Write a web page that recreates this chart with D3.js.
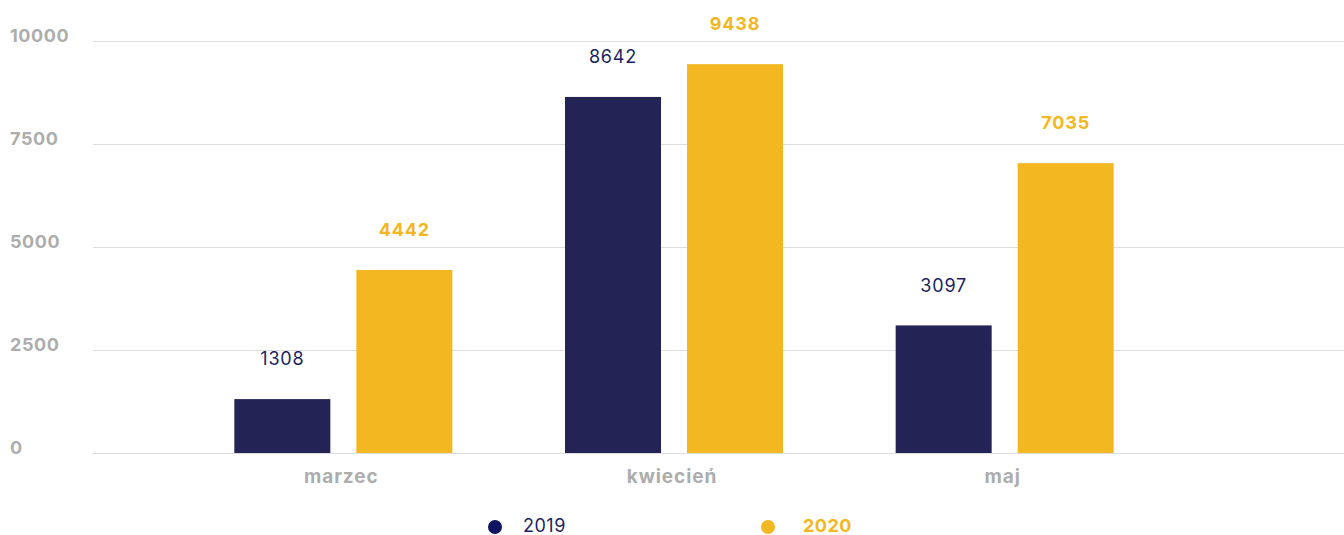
<!DOCTYPE html>
<html>
<head>
<meta charset="utf-8">
<script src="https://cdn.jsdelivr.net/npm/d3@7"></script>
<style>
  html, body { margin: 0; padding: 0; background: #fff; }
  svg { display: block; font-family: "Inter", "Open Sans", sans-serif; }
</style>
</head>
<body>
<svg id="chart" width="1344" height="535"></svg>
<script>
// Monthly totals, 2019 vs 2020
const categories = ["marzec", "kwiecień", "maj"];
const seriesNames = ["2019", "2020"];
const values2019 = [1308, 8642, 3097];
const values2020 = [4442, 9438, 7035];
const yTicks = [0, 2500, 5000, 7500, 10000];

const colors = { "2019": "#232355", "2020": "#f3b722" };
const labelColors = { "2019": "#1b1f63", "2020": "#f3b722" };
const labelWeights = { "2019": 400, "2020": 700 };

const svg = d3.select("#chart");

const y = d3.scaleLinear().domain([0, 10000]).range([453, 41]);
const x0 = d3.scaleBand().domain(categories).range([178, 1170]).paddingInner(0).paddingOuter(0);
const x1 = d3.scaleBand().domain(seriesNames).range([0, 218]).paddingInner(26 / 122);

// Horizontal grid lines
svg.append("g")
  .selectAll("line")
  .data(yTicks)
  .join("line")
  .attr("x1", 93).attr("x2", 1344)
  .attr("y1", d => y(d) + 0.5).attr("y2", d => y(d) + 0.5)
  .attr("stroke", "#dddddd").attr("stroke-width", 1.2);

// Y axis labels
svg.append("g")
  .selectAll("text")
  .data(yTicks)
  .join("text")
  .attr("x", 10).attr("y", d => y(d) - 5)
  .attr("dy", "0.35em")
  .attr("fill", "#adadad")
  .attr("font-size", 18).attr("font-weight", 700)
  .attr("letter-spacing", 0.6)
  .text(d => d);

const rows = categories.map((c, i) => ({
  cat: c,
  items: [
    { key: "2019", value: values2019[i] },
    { key: "2020", value: values2020[i] }
  ]
}));

const groups = svg.append("g")
  .selectAll("g")
  .data(rows)
  .join("g")
  .attr("transform", d => `translate(${x0(d.cat) + (x0.bandwidth() - 218) / 2},0)`);

groups.selectAll("rect")
  .data(d => d.items)
  .join("rect")
  .attr("x", d => x1(d.key))
  .attr("width", x1.bandwidth())
  .attr("y", d => y(d.value))
  .attr("height", d => y(0) - y(d.value))
  .attr("fill", d => colors[d.key]);

groups.selectAll("text")
  .data(d => d.items)
  .join("text")
  .attr("x", d => x1(d.key) + x1.bandwidth() / 2)
  .attr("y", d => y(d.value) - 40)
  .attr("dy", "0.35em")
  .attr("text-anchor", "middle")
  .attr("fill", d => labelColors[d.key])
  .attr("font-weight", d => labelWeights[d.key])
  .attr("font-size", 18)
  .attr("letter-spacing", 0.8)
  .text(d => d.value);

// Category labels
svg.append("g")
  .selectAll("text")
  .data(categories)
  .join("text")
  .attr("x", d => x0(d) + x0.bandwidth() / 2 - 2)
  .attr("y", 476)
  .attr("dy", "0.35em")
  .attr("text-anchor", "middle")
  .attr("fill", "#adadad")
  .attr("font-size", 19).attr("font-weight", 700)
  .attr("letter-spacing", 0.9)
  .text(d => d);

// Legend
const legend = [
  { key: "2019", cx: 495, tx: 523 },
  { key: "2020", cx: 768, tx: 803 }
];
const lg = svg.append("g").selectAll("g").data(legend).join("g");
lg.append("circle")
  .attr("cx", d => d.cx).attr("cy", 527).attr("r", 7)
  .attr("fill", d => d.key === "2019" ? "#0f1460" : colors[d.key]);
lg.append("text")
  .attr("x", d => d.tx).attr("y", 526)
  .attr("dy", "0.35em")
  .attr("fill", d => labelColors[d.key])
  .attr("font-weight", d => labelWeights[d.key])
  .attr("font-size", 18)
  .attr("letter-spacing", 0.5)
  .text(d => d.key);
</script>
</body>
</html>
